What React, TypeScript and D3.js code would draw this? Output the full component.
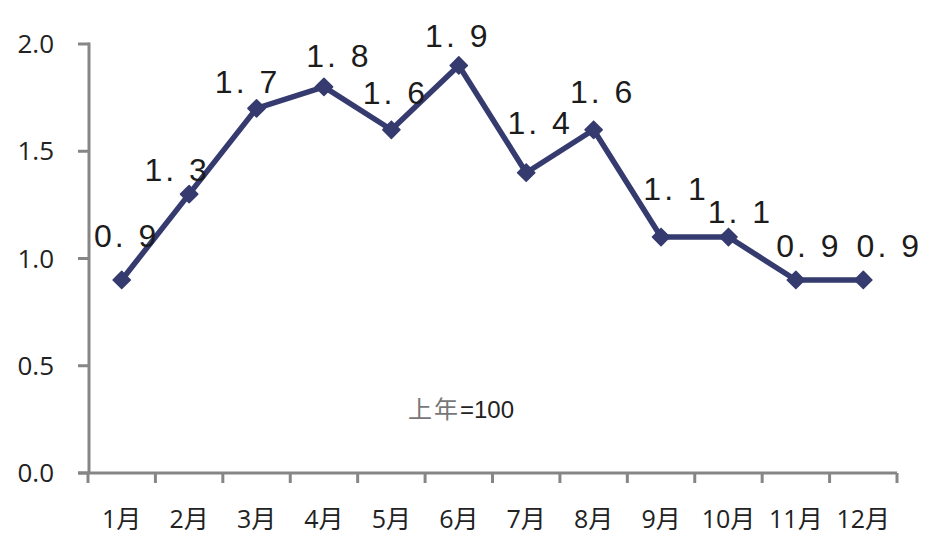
import * as d3 from "d3";
import React, { useEffect, useRef } from "react";

const months = ["1月", "2月", "3月", "4月", "5月", "6月", "7月", "8月", "9月", "10月", "11月", "12月"];
const values = [0.9, 1.3, 1.7, 1.8, 1.6, 1.9, 1.4, 1.6, 1.1, 1.1, 0.9, 0.9];
const yTicks = [0, 0.5, 1.0, 1.5, 2.0];
const noteA = "上年";
const noteB = "=100";

// hand placed label nudges (layout only), [dx, dy] from the point
const labelNudge: [number, number][] = [
  [5, -33], [-12, -13], [-9, -15], [15, -20], [4, -26], [-1, -18],
  [14, -39], [9, -27], [15, -37], [12, -14], [13, -23], [26, -23],
];

const W = 925, H = 538;
const margin = { top: 44, right: 28, bottom: 65, left: 88 };

const App = () => {
  const ref = useRef<SVGSVGElement>(null);

  useEffect(() => {
    const svg = d3.select(ref.current);
    svg.selectAll("*").remove();

    const x = d3.scaleBand().domain(months).range([margin.left, W - margin.right]);
    const y = d3.scaleLinear().domain([0, 2]).range([H - margin.bottom, margin.top]);
    const axisColor = "#868686";
    const y0 = y(0);
    const axisX = margin.left + 1;

    // y axis
    svg.append("line")
      .attr("x1", axisX).attr("x2", axisX)
      .attr("y1", y(2) - 1.5).attr("y2", y0)
      .attr("stroke", axisColor).attr("stroke-width", 3);
    svg.selectAll(".ytick").data(yTicks).enter().append("line")
      .attr("x1", axisX - 11).attr("x2", axisX)
      .attr("y1", (d) => y(d)).attr("y2", (d) => y(d))
      .attr("stroke", axisColor).attr("stroke-width", 3);
    svg.selectAll(".ylab").data(yTicks).enter().append("text")
      .attr("x", 54).attr("y", (d) => y(d) + 9)
      .attr("text-anchor", "end")
      .attr("font-family", "'Open Sans', 'Noto Sans', sans-serif")
      .attr("font-size", 26).attr("fill", "#222")
      .text((d) => d3.format(".1f")(d));

    // x axis
    svg.append("line")
      .attr("x1", axisX - 11).attr("x2", x.range()[1])
      .attr("y1", y0).attr("y2", y0)
      .attr("stroke", axisColor).attr("stroke-width", 3);
    const bounds = months.map((m) => x(m) as number).concat([x.range()[1]]);
    svg.selectAll(".xtick").data(bounds).enter().append("line")
      .attr("x1", (d) => d).attr("x2", (d) => d)
      .attr("y1", y0).attr("y2", y0 + 10)
      .attr("stroke", axisColor).attr("stroke-width", 3);
    svg.selectAll(".xlab").data(months).enter().append("text")
      .attr("x", (d) => (x(d) as number) + x.bandwidth() / 2)
      .attr("y", 528)
      .attr("text-anchor", "middle")
      .attr("font-family", "'Open Sans', 'Noto Sans CJK SC', sans-serif")
      .attr("font-size", 25).attr("fill", "#222")
      .text((d) => d);

    const px = (i: number) => (x(months[i]) as number) + x.bandwidth() / 2;

    // line
    const line = d3.line<number>()
      .x((_, i) => px(i))
      .y((d) => y(d));
    svg.append("path")
      .datum(values)
      .attr("d", line)
      .attr("fill", "none")
      .attr("stroke", "#353b6f")
      .attr("stroke-width", 5.5)
      .attr("stroke-linejoin", "round");

    const diamond = d3.symbol().type(d3.symbolDiamond2).size(190);
    svg.selectAll(".pt").data(values).enter().append("path")
      .attr("d", diamond)
      .attr("transform", (d, i) => `translate(${px(i)},${y(d)})`)
      .attr("fill", "#353b6f")
      .attr("stroke", "#353b6f")
      .attr("stroke-width", 1.5)
      .attr("stroke-linejoin", "round");

    // value labels, written like "1. 8"
    svg.selectAll(".vlab").data(values).enter().append("text")
      .attr("x", (_, i) => px(i) + labelNudge[i][0])
      .attr("y", (d, i) => y(d) + labelNudge[i][1])
      .attr("text-anchor", "middle")
      .attr("font-family", "'Liberation Sans', Arial, sans-serif")
      .attr("font-size", 32).attr("fill", "#1c1c1c")
      .attr("letter-spacing", 3)
      .text((d) => d3.format(".1f")(d).replace(".", ". "));

    const t = svg.append("text")
      .attr("x", 461).attr("y", 418)
      .attr("text-anchor", "middle")
      .attr("font-family", "'Liberation Sans', 'Noto Sans CJK SC', sans-serif")
      .attr("font-size", 24);
    t.append("tspan").attr("fill", "#777").attr("letter-spacing", 2)
      .attr("font-family", "'Noto Sans CJK SC', sans-serif").text(noteA);
    t.append("tspan").attr("fill", "#222").text(noteB);
  }, []);

  return (
    <svg ref={ref} width={W} height={H}
      style={{ position: "absolute", left: 0, top: 0, background: "#fff" }} />
  );
};

export default App;
